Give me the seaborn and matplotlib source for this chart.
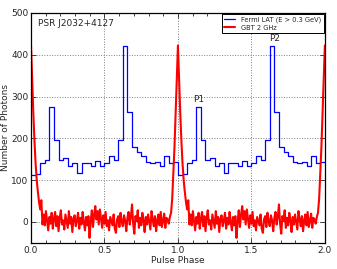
import numpy as np
import pandas as pd
import matplotlib
matplotlib.use("Agg")
import matplotlib.pyplot as plt
import seaborn as sns
from matplotlib.ticker import MultipleLocator

# ---- data (one rotation, repeated for the second) ----
fermi_counts = [112, 115, 142, 148, 275, 195, 148, 152, 134, 141, 118, 141,
                141, 135, 146, 135, 141, 158, 149, 195, 420, 262, 179, 167,
                157, 143, 141, 143, 135, 157, 140, 143]
radio_profile = [422, 340, 262, 195, 140, 100, 72, 48, 30, 52,
                 -6, 18, -8, 26, 3, -20, 12, -4, 22, -16,
                 8, 24, -10, 14, -22, 10, 28, -6, 4, -18,
                 18, 2, -14, 26, -4, 12, -24, 8, 16, -10,
                 4, 22, -16, 10, -6, 24, 0, -20, 12, -8,
                 14, -38, 2, 28, -12, 18, 38, 6, 26, -6,
                 30, 8, -14, 16, -4, 24, -10, 4, -20, 12,
                 2, -8, 18, -16, -26, 6, 14, -12, 22, 0,
                 -10, 16, 4, -22, 10, 24, -6, 12, 42, -4,
                 -28, 14, 2, 28, -14, 10, -8, 22, 4, -24,
                 12, -6, 18, 0, -18, 26, 6, -10, 14, -22,
                 4, 18, -8, 24, -12, 2, 20, -14, 10, 6,
                 -4, 12, 22, 55, 115, 180, 260, 345]
n_cycles = 2
title_text = "PSR J2032+4127"
peak_labels = ["P1", "P2"]
peak_label_pos = [(1.14, 283), (1.655, 428)]
legend_labels = ["Fermi LAT (E > 0.3 GeV)", "GBT 2 GHz"]

# ---- build tables ----
nb = len(fermi_counts)
edges = np.arange(nb * n_cycles + 1) / nb
fermi_y = list(fermi_counts) * n_cycles
fermi_df = pd.DataFrame({"phase": edges, "counts": fermi_y + [fermi_y[-1]]})

nr = len(radio_profile)
radio_x = np.arange(nr * n_cycles + 1) / nr
radio_y = list(radio_profile) * n_cycles + [radio_profile[0]]
radio_df = pd.DataFrame({"phase": radio_x, "flux": radio_y})

sns.set_style("ticks")
plt.rcParams["font.family"] = ["DejaVu Sans"]

fig = plt.figure(figsize=(3.37, 2.69), dpi=100)
ax = fig.add_axes([0.092, 0.097, 0.872, 0.855])

sns.lineplot(data=fermi_df, x="phase", y="counts", ax=ax, color="#0000ff",
             lw=0.9, drawstyle="steps-post", estimator=None,
             label=legend_labels[0])
sns.lineplot(data=radio_df, x="phase", y="flux", ax=ax, color="#ff0000",
             lw=1.5, estimator=None, label=legend_labels[1])

ax.set_xlim(0, 2)
ax.set_ylim(-50, 500)
ax.xaxis.set_major_locator(MultipleLocator(0.5))
ax.xaxis.set_minor_locator(MultipleLocator(0.1))
ax.yaxis.set_major_locator(MultipleLocator(100))
ax.tick_params(which="both", direction="in", top=True, right=True,
               labelsize=6.5, pad=2, width=0.6)
ax.tick_params(which="major", length=3.5)
ax.tick_params(which="minor", length=2)
ax.grid(True, which="major", ls=":", color="gray", lw=0.7)
for s in ax.spines.values():
    s.set_linewidth(0.9)
    s.set_color("black")

ax.set_xlabel("Pulse Phase", fontsize=6.5, labelpad=1)
ax.set_ylabel("Number of Photons", fontsize=6.5, labelpad=1)

ax.text(0.025, 0.952, title_text, transform=ax.transAxes, fontsize=6.5,
        ha="left", va="center")
for lab, (px, py) in zip(peak_labels, peak_label_pos):
    ax.text(px, py, lab, fontsize=6.5, ha="center", va="bottom")

leg = ax.legend(loc="upper right", fontsize=4.8, frameon=True, fancybox=False,
                borderpad=0.35, handlelength=1.7, labelspacing=0.3,
                borderaxespad=0.15, handletextpad=0.9)
leg.get_frame().set_edgecolor("black")
leg.get_frame().set_linewidth(0.7)
leg.get_frame().set_alpha(1)

fig.savefig("out.png", dpi=100)
